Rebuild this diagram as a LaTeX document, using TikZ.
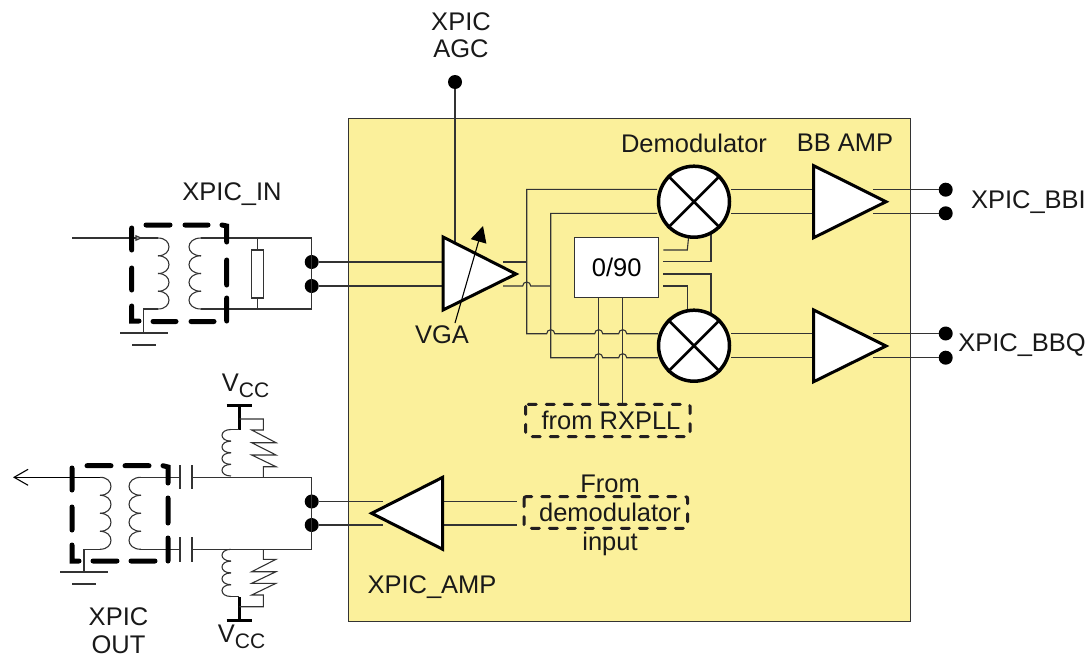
\documentclass[tikz,border=0pt]{standalone}
\usepackage{fontspec}
\setmainfont{Liberation Sans}
\usetikzlibrary{arrows.meta,calc}
\definecolor{panel}{HTML}{FBF09B}
\definecolor{dashdark}{HTML}{231F20}
\tikzset{
  wire/.style={line width=1.1pt,draw=black!80},
  amp/.style={draw=black,fill=white,line width=3pt,line join=miter},
  lightdash/.style={draw=dashdark,line width=3pt,line cap=round,dash pattern=on 8pt off 10pt},
  terminal/.style={circle,fill=black,inner sep=0pt,minimum size=14pt},
  lbl/.style={font=\fontsize{25.5}{25.5}\selectfont,inner sep=0pt,text=black!90},
  bar/.style={line width=3pt,draw=black}
}
% coil with four bumps: #1 start x, #2 top y, #3 bottom y, #4 bulge
\newcommand{\coilv}[4]{%
  \pgfmathsetmacro{\st}{(#3-#2)/4}%
  \foreach \i in {0,1,2,3}{%
    \pgfmathsetmacro{\ya}{#2+\i*\st}\pgfmathsetmacro{\yb}{\ya+\st}%
    \draw[wire] (#1,\ya) .. controls ({#1+1.33*#4},\ya) and ({#1+1.33*#4},\yb) .. (#1,\yb);
  }}
\newcommand{\vcctext}{V\raisebox{-6pt}{\fontsize{21}{21}\selectfont CC}}
\begin{document}
\begin{tikzpicture}[x=1pt,y=-1pt]
\useasboundingbox (0,0) rectangle (1090,656);
\node[draw=black!80,fill=panel,line width=1.2pt,minimum width=561.5pt,minimum height=503pt,inner sep=0pt,anchor=north west] (panel) at (348,118) {};

% --- input transformer
\coordinate (inL) at (72,238);
\coordinate (inCoil) at (158,238);
\draw[wire] (inL) -- (inCoil);
\draw[wire,fill=black!35] (141,238) -- (136,235.8) -- (136,240.2) -- cycle;
\coilv{158}{238}{309}{11}
\coilv{201}{238}{309}{-12}
\node[terminal] (inA) at (311.7,262) {};
\node[terminal] (inB) at (311.7,286) {};
\coordinate (inTR) at (311.7,238);
\coordinate (inBR) at (311.7,309);
\draw[wire] (201,238) -- (inTR) -- (inBR) -- (201,309);
\node[draw=black!80,fill=white,line width=1.1pt,minimum width=12pt,minimum height=48pt,inner sep=0pt] (inR) at (257.7,274) {};
\draw[wire] (257.7,238) -- (inR.north);
\draw[wire] (inR.south) -- (257.7,309);
\coordinate (gndI) at (143.3,333);
\draw[wire] (158,309) -- (143.3,309) -- (gndI);
\draw[wire] (120,333) -- (168,333);
\draw[wire] (132,345) -- (156,345);
\draw[black,line width=5pt,line cap=round]
  (131.7,228) -- (131.7,250) (131.7,268) -- (131.7,290) (131.7,306) -- (131.7,321) -- (139,321)
  (146,225) -- (170,225) (185,225) -- (208,225) (222,225) -- (226.7,226) -- (226.7,242)
  (226.7,260) -- (226.7,285) (226.7,298) -- (226.7,321)
  (153,321.5) -- (176,321.5) (191,321.5) -- (214,321.5);

\node[lbl] (tIn) at (232,194) {XPIC\_IN};

% --- VGA
\node[terminal] (agc) at (455,82) {};
\node[lbl,anchor=base] (tAgc1) at (461,30) {XPIC};
\node[lbl,anchor=base] (tAgc2) at (461,57) {AGC};
\draw[wire] (agc) -- (455,245);
\draw[wire] (inA) -- (443,262);
\draw[wire] (inB) -- (443,286);
\draw[amp] (443,237) -- (516,274) -- (443,310) -- cycle;
\coordinate (vgaS) at (455,323);
\coordinate (vgaT) at (483,226);
\draw[black,line width=1.1pt,-{Triangle[length=16pt,width=16pt]}] (vgaS) -- (vgaT);
\node[lbl] (tVga) at (442,335) {VGA};

% --- wiring between VGA and mixers
\draw[wire] (503,262) -- (526.7,262);
\draw[wire] (503,286) -- (522.7,286) arc[start angle=180,end angle=0,radius=4pt] -- (550.7,286);
\draw[wire] (657,189.3) -- (526.7,189.3) -- (526.7,333.7) -- (546.7,333.7) arc[start angle=180,end angle=0,radius=4pt] -- (594.7,333.7) arc[start angle=180,end angle=0,radius=4pt] -- (618.7,333.7) arc[start angle=180,end angle=0,radius=4pt] -- (658,333.7);
\draw[wire] (657,213.3) -- (550.7,213.3) -- (550.7,357.7) -- (594.7,357.7) arc[start angle=180,end angle=0,radius=4pt] -- (618.7,357.7) arc[start angle=180,end angle=0,radius=4pt] -- (658,357.7);

% --- 0/90
\node[draw=black!80,fill=white,line width=1.1pt,minimum width=84pt,minimum height=59.6pt,inner sep=0pt,font=\fontsize{25.5}{25.5}\selectfont] (ph) at (616.7,267.5) {0/90};
\draw[wire] (598.7,297.3) -- (598.7,405);
\draw[wire] (622.7,297.3) -- (622.7,405);
\draw[wire] (663.3,250) -- (687.3,250) -- (688.5,238);
\draw[wire] (663.3,261.7) -- (711,261.7) -- (711,234);
\draw[wire] (663.3,274) -- (711,274) -- (711,315);
\draw[wire] (663.3,286) -- (687.3,286) -- (687.3,312);

% --- mixers
\foreach \n/\cy in {mixI/201.7,mixQ/345.7}{
  \node[circle,draw=black,fill=white,line width=3.5pt,minimum size=71pt,inner sep=0pt] (\n) at (694,\cy) {};
  \draw[black,line width=2.6pt] (\n.45) -- (\n.225) (\n.135) -- (\n.315);
}
\node[lbl] (tDem) at (694,143) {Demodulator};
\node[lbl] (tBB) at (845,143) {BB AMP};

% --- baseband amps
\foreach \n/\ya/\yb in {I/189.7/213.3,Q/333.5/357.7}{
  \draw[wire] (731,\ya) -- (813.7,\ya);
  \draw[wire] (731,\yb) -- (813.7,\yb);
}
\draw[amp] (813.7,165.7) -- (886,201.7) -- (813.7,237.7) -- cycle;
\draw[amp] (813.7,310) -- (886,346) -- (813.7,381.7) -- cycle;
\node[terminal] (bbiA) at (945.7,189.7) {};
\node[terminal] (bbiB) at (945.7,213.3) {};
\node[terminal] (bbqA) at (945.7,333.5) {};
\node[terminal] (bbqB) at (945.7,357.7) {};
\draw[wire] (873,189.7) -- (bbiA);
\draw[wire] (873,213.3) -- (bbiB);
\draw[wire] (873,333.5) -- (bbqA);
\draw[wire] (873,357.7) -- (bbqB);
\node[lbl,anchor=east] (tBBI) at (1086,202) {XPIC\_BBI};
\node[lbl,anchor=east] (tBBQ) at (1086,345) {XPIC\_BBQ};

% --- from boxes
\node[lbl] (tRx) at (611,420) {from RXPLL};
\draw[lightdash,rounded corners=2pt] (525.7,404.3) rectangle (690,436.7);
\node[lbl] (tFrom) at (610,484) {From};
\node[lbl] (tDmd) at (610,512) {demodulator};
\node[lbl] (tInp) at (610,544) {input};
\draw[lightdash,rounded corners=2pt] (524,496.7) rectangle (687.7,528.3);

% --- output amp
\node[terminal] (outA) at (311.7,501.5) {};
\node[terminal] (outB) at (311.7,525) {};
\draw[wire] (outA) -- (383,501.5);
\draw[wire] (outB) -- (383,525);
\draw[wire] (442.7,501.5) -- (516.7,501.5);
\draw[wire] (442.7,525) -- (516.7,525);
\draw[amp] (442.7,477.3) -- (371.7,513.3) -- (442.7,549.3) -- cycle;
\node[lbl] (tAmp) at (432,587) {XPIC\_AMP};

% --- output transformer
\coordinate (outL) at (13,477.3);
\draw[wire,draw=black,{Straight Barb[length=14pt,width=16pt]}-] (outL) -- (100,477.3);
\coilv{100}{477.3}{549.3}{11}
\coilv{141}{477.3}{549.3}{-12}
\draw[wire] (141,477.3) -- (180,477.3);
\draw[wire] (141,549.3) -- (180,549.3);
\draw[wire] (180,465) -- (180,489) (180,537) -- (180,562);
\draw[wire] (192,465) -- (192,489) (192,537) -- (192,562);
\draw[wire] (192,477.3) -- (311.7,477.3) -- (311.7,549.3) -- (192,549.3);
\draw[wire] (100,549.3) -- (84,549.3) -- (84,572);
\draw[wire] (60,572) -- (108,572);
\draw[wire] (72,584) -- (96,584);
\draw[black,line width=5pt,line cap=round]
  (72,468) -- (72,490) (72,507) -- (72,530) (72,545) -- (72,561) -- (79,561)
  (87,465.7) -- (111,465.7) (125,465.7) -- (149,465.7) (163,465.7) -- (168,467) -- (168,483)
  (168,498) -- (168,523) (168,538) -- (168,561)
  (93,561) -- (117,561) (131,561) -- (155,561);

% --- Vcc networks
\draw[bar] (226.7,405) -- (252,405);
\draw[bar] (239.3,405) -- (239.3,429.5);
\draw[wire] (239.3,419) -- (263.3,419) -- (263.3,430) -- (251.7,430) -- (276,442.7) -- (251.7,442.7) -- (276,455) -- (251.7,455) -- (276,466.7) -- (263.3,466.7) -- (263.3,477.3);
\draw[wire] (239.3,429.5) -- (231,429.5);
\coilv{231}{429.5}{476}{-9}
\draw[bar] (226.7,620.7) -- (252,620.7);
\draw[bar] (239.3,620.7) -- (239.3,596.5);
\draw[wire] (263.3,549.3) -- (263.3,559.3) -- (276,559.3) -- (251.7,571.7) -- (276,571.7) -- (251.7,583.3) -- (276,583.3) -- (251.7,595) -- (263.3,595) -- (263.3,606.7) -- (239.3,606.7);
\draw[wire] (239.3,596.5) -- (231,596.5);
\coilv{231}{549.3}{596.5}{-9}
\node[lbl,anchor=base] (tV1) at (245.5,391) {\vcctext};
\node[lbl,anchor=base] (tV2) at (241.5,642) {\vcctext};
\node[lbl,anchor=base] (tOut1) at (118.5,625) {XPIC};
\node[lbl,anchor=base] (tOut2) at (118.5,653) {OUT};
\end{tikzpicture}
\end{document}
